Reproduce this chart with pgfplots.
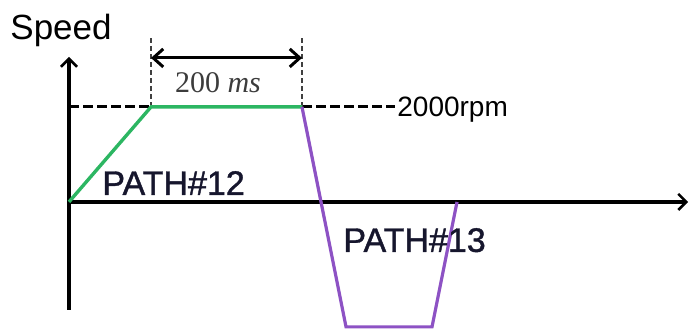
\documentclass[border=0pt]{standalone}
\usepackage{pgfplots}
\pgfplotsset{compat=1.18}
\usepackage{fontspec}
\setmainfont{Liberation Sans}
\newfontfamily\timesfont{Liberation Serif}
\newfontfamily\pathfont[FakeBold=1.2]{Liberation Sans}
\usetikzlibrary{arrows.meta}
\definecolor{rampgreen}{RGB}{44,182,98}
\definecolor{pathpurple}{RGB}{141,82,196}
\definecolor{labelnavy}{RGB}{22,22,45}
\definecolor{msgray}{RGB}{60,60,60}

\begin{document}
\begin{tikzpicture}
\begin{axis}[
  x=0.3775pt, y=0.02375pt,
  axis lines=middle,
  xmin=0, xmax=820, ymin=-2274, ymax=3053,
  xtick=\empty, ytick=\empty,
  axis line style={line width=1.6pt, -{Straight Barb[length=4pt,width=8pt,line width=1.3pt]}},
  clip=false,
]
% speed reference lines
\addplot[black, line width=1.5pt, dash pattern=on 5pt off 2pt] coordinates {(0,2000) (108.6,2000)};
\addplot[black, line width=1.5pt, dash pattern=on 5pt off 2pt] coordinates {(308.6,2000) (431.8,2000)};
\addplot[black!75, line width=0.8pt, dash pattern=on 2.5pt off 1.5pt] coordinates {(108.6,2000) (108.6,3453)};
\addplot[black!75, line width=0.8pt, dash pattern=on 2.5pt off 1.5pt] coordinates {(308.6,2000) (308.6,3453)};
\addplot[black, line width=1.5pt, {Straight Barb[length=5pt,width=9pt]}-{Straight Barb[length=5pt,width=9pt]}] coordinates {(108.6,3032) (308.6,3032)};

% PATH#12
\addplot[rampgreen, line width=1.7pt] coordinates {(0,0) (108.6,2000) (308.6,2000)};
% PATH#13
\addplot[pathpurple, line width=1.6pt] coordinates {(308.6,2000) (366.9,-2632) (480.8,-2632) (513.9,0)};

\node[anchor=base west, inner sep=0, font=\fontsize{17.5}{20}\selectfont] at (axis cs:-78.1,3410) {Speed};
\node[anchor=base west, inner sep=0, font=\fontsize{14}{16}\selectfont] at (axis cs:434.4,1790) {2000rpm};
\node[anchor=base west, inner sep=0, text=labelnavy, font=\pathfont\fontsize{17}{19}\selectfont] at (axis cs:43.7,147) {PATH\#12};
\node[anchor=base west, inner sep=0, text=labelnavy, font=\pathfont\fontsize{17}{19}\selectfont] at (axis cs:362.9,-1053) {PATH\#13};
\node[anchor=base, inner sep=0, text=msgray, font=\timesfont\fontsize{15}{17}\selectfont] at (axis cs:197.3,2295) {200 \textit{ms}};

\coordinate (bl) at (axis cs:-91.4,-2673.7);
\coordinate (tr) at (axis cs:822.5,4252.6);
\end{axis}
\pgfresetboundingbox
\useasboundingbox (bl) rectangle (tr);
\end{tikzpicture}
\end{document}
